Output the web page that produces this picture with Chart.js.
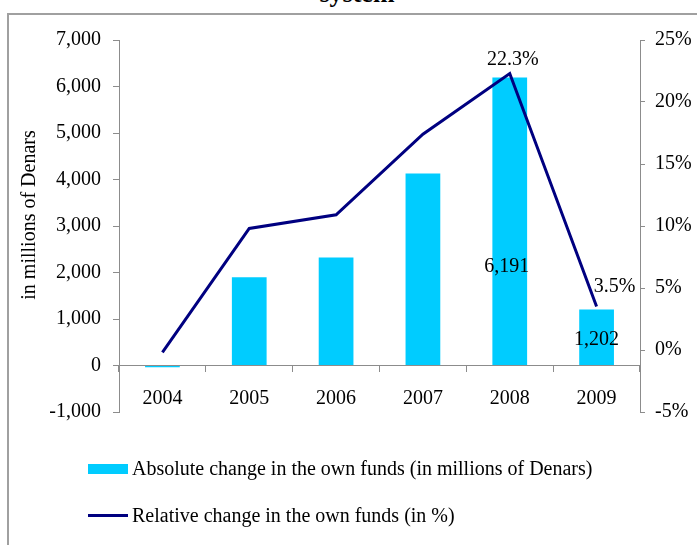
<!DOCTYPE html>
<html>
<head>
<meta charset="utf-8">
<script src="https://cdn.jsdelivr.net/npm/chart.js@4/dist/chart.umd.min.js"></script>
<style>
  body { margin: 0; background: #fff; }
  #wrap { position: relative; width: 697px; height: 545px; overflow: hidden; font-family: "Liberation Serif", "Times New Roman", serif; color: #000; }
  #frame { position: absolute; left: 7px; top: 13px; width: 720px; height: 560px; border: 2px solid #a0a0a0; }
  #title { position: absolute; left: 0; width: 714px; text-align: center; top: -21px; font-size: 26px; font-weight: bold; }
  canvas { position: absolute; left: 0; top: 0; }
  .leg { position: absolute; left: 88px; font-size: 20px; display: flex; align-items: center; white-space: nowrap; }
  .sw { width: 40px; margin-right: 4px; }
</style>
</head>
<body>
<div id="wrap">
  <div id="frame"></div>
  <div id="title">system</div>
  <canvas id="myChart" width="697" height="545"></canvas>
  <div class="leg" style="top:457px"><span class="sw" style="height:10px;background:#00ccff"></span>Absolute change in the own funds (in millions of Denars)</div>
  <div class="leg" style="top:504px"><span class="sw" style="height:3px;background:#000080"></span>Relative change in the own funds (in %)</div>
</div>
<script>
const years = ['2004', '2005', '2006', '2007', '2008', '2009'];
const absoluteChange = [-40, 1900, 2320, 4130, 6191, 1202];
const relativeChange = [-0.2, 9.8, 10.9, 17.4, 22.3, 3.5];
const leftTicks = [-1000, 0, 1000, 2000, 3000, 4000, 5000, 6000, 7000];
const rightTicks = [-5, 0, 5, 10, 15, 20, 25];

const serif = '"Liberation Serif", "Times New Roman", serif';
const axisGrey = '#8c8c8c';

// value labels: only the last two years carry them
const valueLabels = {
  id: 'valueLabels',
  afterDatasetsDraw(chart) {
    const ctx = chart.ctx;
    const bars = chart.getDatasetMeta(0).data;
    const pts = chart.getDatasetMeta(1).data;
    ctx.save();
    ctx.font = '20px ' + serif;
    ctx.fillStyle = '#000';
    ctx.textAlign = 'center';
    ctx.textBaseline = 'middle';
    const fmt = v => v.toLocaleString('en-US');
    // bar labels
    ctx.fillText(fmt(absoluteChange[4]), bars[4].x - 3, bars[4].y + 189);
    ctx.fillText(fmt(absoluteChange[5]), bars[5].x, bars[5].y + 30);
    // line labels
    ctx.fillText(relativeChange[4].toFixed(1) + '%', pts[4].x + 3, pts[4].y - 14);
    ctx.fillText(relativeChange[5].toFixed(1) + '%', pts[5].x + 18, pts[5].y - 20);
    // left axis title
    ctx.translate(30, 215);
    ctx.rotate(-Math.PI / 2);
    ctx.fillText('in millions of Denars', 0, 0);
    ctx.restore();
  }
};

const ctx = document.getElementById('myChart');

new Chart(ctx, {
  data: {
    labels: years,
    datasets: [{
      type: 'bar',
      label: 'Absolute change in the own funds (in millions of Denars)',
      data: absoluteChange,
      backgroundColor: '#00ccff',
      yAxisID: 'y',
      categoryPercentage: 1,
      barPercentage: 0.4,
      order: 2
    }, {
      type: 'line',
      label: 'Relative change in the own funds (in %)',
      data: relativeChange,
      borderColor: '#000080',
      borderWidth: 3,
      pointRadius: 0,
      tension: 0,
      yAxisID: 'y1',
      order: 1
    }]
  },
  options: {
    responsive: false,
    animation: false,
    layout: { padding: { left: 0, right: 0, top: 40, bottom: 133 } },
    plugins: {
      legend: { display: false },
      tooltip: { enabled: false }
    },
    scales: {
      x: {
        position: { y: 0 },
        offset: true,
        grid: { drawOnChartArea: false, tickLength: 6, color: axisGrey, offset: true },
        border: { color: axisGrey, width: 1 },
        ticks: { color: '#000', font: { family: serif, size: 20 }, padding: 15 }
      },
      y: {
        position: 'left',
        min: -1000,
        max: 7000,
        afterFit(s) { s.width = 119; },
        afterBuildTicks(s) { s.ticks = leftTicks.map(v => ({ value: v })); },
        grid: { drawOnChartArea: false, tickLength: 6, color: axisGrey },
        border: { color: axisGrey, width: 1 },
        ticks: {
          color: '#000', font: { family: serif, size: 20 }, padding: 12,
          callback: v => v.toLocaleString('en-US')
        }
      },
      y1: {
        position: 'right',
        min: -5,
        max: 25,
        afterFit(s) { s.width = 57; },
        afterBuildTicks(s) { s.ticks = rightTicks.map(v => ({ value: v })); },
        grid: { drawOnChartArea: false, tickLength: 5, color: axisGrey },
        border: { color: axisGrey, width: 1 },
        ticks: {
          color: '#000', font: { family: serif, size: 20 }, padding: 10,
          callback: v => v + '%'
        }
      }
    }
  },
  plugins: [valueLabels]
});
</script>
</body>
</html>
